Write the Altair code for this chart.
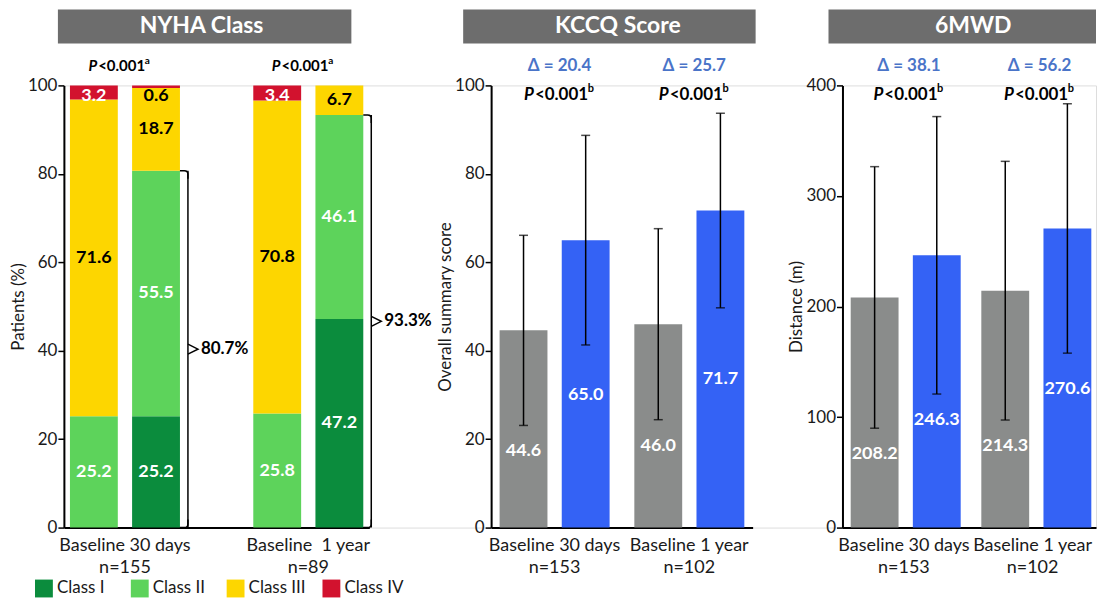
import altair as alt
import pandas as pd

FONT = "Lato"
TXT = "#1a1a1a"
HDR = "#6d6d6d"
GRAY = "#8a8c8b"
BLUE = "#3462f5"
DBLUE = "#4a74c8"

classes = ["Class I", "Class II", "Class III", "Class IV"]
class_colors = ["#0b8c3d", "#5dd35b", "#fdd600", "#d2122e"]
times = ["Baseline", "Follow-up"]

nyha_groups = ["Baseline 30 days|n=155", "Baseline\u00a0 1 year|n=89"]
nyha_base_30d = [0.0, 25.2, 71.6, 3.2]
nyha_30d = [25.2, 55.5, 18.7, 0.6]
nyha_base_1y = [0.0, 25.8, 70.8, 3.4]
nyha_1y = [47.2, 46.1, 6.7, 0.0]
nyha_p = ["<0.001", "<0.001"]
nyha_sup = ["a", "a"]

kccq_groups = ["Baseline 30 days|n=153", "Baseline 1 year|n=102"]
kccq_mean = [44.6, 65.0, 46.0, 71.7]
kccq_sd = [21.5, 23.7, 21.6, 22.0]
kccq_delta = ["\u0394 = 20.4", "\u0394 = 25.7"]
kccq_p = ["<0.001", "<0.001"]
kccq_sup = ["b", "b"]

mwd_groups = ["Baseline 30 days|n=153", "Baseline 1 year|n=102"]
mwd_mean = [208.2, 246.3, 214.3, 270.6]
mwd_sd = [118.3, 125.5, 117.0, 112.8]
mwd_delta = ["\u0394 = 38.1", "\u0394 = 56.2"]
mwd_p = ["<0.001", "<0.001"]
mwd_sup = ["b", "b"]


def y_axis(title, values):
    return alt.Axis(title=title, values=values, grid=False, domainColor="black",
                    domainWidth=2, tickColor="black", tickWidth=1.5, tickSize=6,
                    labelFont=FONT, labelFontSize=17, labelColor=TXT, labelPadding=1,
                    titleFont=FONT, titleFontSize=17, titleFontWeight="normal",
                    titleColor=TXT, titlePadding=0)


def x_axis(last_shift=0, last_value=""):
    extra = {}
    if last_shift:
        extra["labelOffset"] = alt.condition(f"datum.value == '{last_value}'",
                                             alt.value(last_shift), alt.value(0))
    return alt.Axis(title=None, labelExpr="split(datum.label, '|')", labelAngle=0,
                    ticks=False, domainColor="black", domainWidth=2, labelFont=FONT,
                    labelFontSize=18, labelColor=TXT, labelLineHeight=22,
                    labelPadding=9, labelBaseline="top", **extra)


def header(text, x0, x1, xt):
    d = pd.DataFrame({"t": [text]})
    rect = alt.Chart(d).mark_rect(color=HDR).encode(
        x=alt.value(x0), x2=alt.value(x1), y=alt.value(-76), y2=alt.value(-42))
    lab = alt.Chart(d).mark_text(font=FONT, fontSize=23, fontWeight="bold",
                                 color="white", baseline="middle").encode(
        x=alt.value(xt), y=alt.value(-59), text="t:N")
    return [rect, lab]


def p_labels(df, xenc, ypix, size, shift):
    # "P" (italic) + "<0.001" + superscript letter, centred on the group
    wp = 0.62 * size
    wr = 3.05 * size
    ws = 0.35 * size
    start = -(wp + wr + ws) / 2 + wp + shift
    common = dict(font=FONT, fontWeight="bold", baseline="middle", color="black")
    p1 = alt.Chart(df).mark_text(fontSize=size, fontStyle="italic", align="right",
                                 dx=start - 1, **common).encode(
        x=xenc, y=alt.value(ypix), text=alt.value("P"))
    p2 = alt.Chart(df).mark_text(fontSize=size, align="left", dx=start, **common).encode(
        x=xenc, y=alt.value(ypix), text="p:N")
    p3 = alt.Chart(df).mark_text(fontSize=round(size * 0.65), align="left",
                                 dx=start + wr + 1, dy=-size * 0.38, **common).encode(
        x=xenc, y=alt.value(ypix), text="s:N")
    return [p1, p2, p3]


# ---------------- NYHA panel ----------------
rows = []
sets = [(nyha_groups[0], "Baseline", nyha_base_30d), (nyha_groups[0], "Follow-up", nyha_30d),
        (nyha_groups[1], "Baseline", nyha_base_1y), (nyha_groups[1], "Follow-up", nyha_1y)]
for g, t, vals in sets:
    cum = 0.0
    for ci, (c, v) in enumerate(zip(classes, vals)):
        rows.append(dict(group=g, time=t, cls=c, order=ci, value=v, lo=cum, hi=cum + v,
                         mid=min(cum + v / 2, 97.6), label=f"{v:.1f}",
                         dark=(c == "Class III" or v < 1)))
        cum += v
nyha_df = pd.DataFrame(rows)

br_rows = []
for g, vals in [(nyha_groups[0], nyha_30d), (nyha_groups[1], nyha_1y)]:
    tot = round(vals[0] + vals[1], 1)
    br_rows.append(dict(group=g, total=tot, mid=tot / 2, zero=0.0, label=f"{tot:.1f}%"))
br_df = pd.DataFrame(br_rows)
np_df = pd.DataFrame({"group": nyha_groups, "p": nyha_p, "s": nyha_sup})

x1 = alt.X("group:N", sort=nyha_groups, axis=x_axis(),
           scale=alt.Scale(range=[0, 306], paddingInner=0.40, paddingOuter=0.033))
x1e = alt.X("group:N", sort=nyha_groups, bandPosition=1)
xo1 = alt.XOffset("time:N", sort=times, scale=alt.Scale(paddingInner=0.23))
y1 = alt.Y("lo:Q", scale=alt.Scale(domain=[0, 100]), axis=y_axis("Patients (%)", [0, 20, 40, 60, 80, 100]))

bars1 = alt.Chart(nyha_df).mark_bar().encode(
    x=x1, xOffset=xo1, y=y1, y2="hi:Q",
    color=alt.Color("cls:N", scale=alt.Scale(domain=classes, range=class_colors),
                    legend=alt.Legend(orient="none", legendX=-29, legendY=495,
                                      direction="horizontal", title=None,
                                      symbolType="square", symbolSize=320,
                                      symbolStrokeWidth=0, symbolOpacity=1,
                                      labelFont=FONT, labelFontSize=17, labelColor=TXT,
                                      labelOffset=4, columnPadding=14, gridAlign="all")))
labels1 = alt.Chart(nyha_df).transform_filter("datum.value > 0").mark_text(
    font=FONT, fontSize=18, fontWeight="bold", baseline="middle").encode(
    x=x1, xOffset=xo1, y="mid:Q", text="label:N",
    color=alt.condition("datum.dark", alt.value("black"), alt.value("white")))

BR = dict(filled=False, color="black", strokeWidth=1.5, opacity=1)
br_v = alt.Chart(br_df).mark_rule(color="black", strokeWidth=1.5, xOffset=8).encode(
    x=x1e, y="zero:Q", y2="total:Q")
br_t = alt.Chart(br_df).mark_point(shape="M -1 -1 L 0.1 -1 Q 1 -1 1 -0.1 L 1 1", size=64,
                                   xOffset=4, yOffset=4, **BR).encode(x=x1e, y="total:Q")
br_b = alt.Chart(br_df).mark_point(shape="M 1 -1 L 1 0.1 Q 1 1 0.1 1 L -1 1", size=64,
                                   xOffset=4, yOffset=-4, **BR).encode(x=x1e, y="zero:Q")
br_c = alt.Chart(br_df).mark_point(shape="M -1 -1 L 1 0 L -1 1", size=100,
                                   xOffset=13, **BR).encode(x=x1e, y="mid:Q")
br_l = alt.Chart(br_df).mark_text(font=FONT, fontSize=17, fontWeight="bold", align="left",
                                  baseline="middle", dx=21, color="black").encode(
    x=x1e, y="mid:Q", text="label:N")

p1 = alt.layer(*header("NYHA Class", -6, 288, 138), bars1, labels1, br_v, br_t, br_b, br_c,
               br_l, *p_labels(np_df, alt.X("group:N", sort=nyha_groups), -19, 15, -6)
               ).properties(width=428, height=443)


# ---------------- bar + error panels ----------------
def bar_panel(title, groups, means, sds, deltas, ps, sups, ymax, yvals, ytitle, width,
              xrange, hx0, hx1, hxt, last_shift=0):
    r = []
    for i, (m, s) in enumerate(zip(means, sds)):
        lo = m - s
        r.append(dict(group=groups[i // 2], time=times[i % 2], mean=m, lo=lo, hi=m + s,
                      laby=min(lo, 0.55 * m), label=f"{m:.1f}"))
    df = pd.DataFrame(r)
    ann = pd.DataFrame({"group": groups, "d": deltas, "p": ps, "s": sups})
    xs = alt.X("group:N", sort=groups, axis=x_axis(last_shift, groups[-1]),
               scale=alt.Scale(range=[0, xrange], paddingInner=0.185, paddingOuter=0.063))
    xo = alt.XOffset("time:N", sort=times, scale=alt.Scale(paddingInner=0.136))
    ys = alt.Y("mean:Q", scale=alt.Scale(domain=[0, ymax]), axis=y_axis(ytitle, yvals))
    bars = alt.Chart(df).mark_bar().encode(
        x=xs, xOffset=xo, y=ys,
        color=alt.condition("datum.time == 'Baseline'", alt.value(GRAY), alt.value(BLUE)))
    err = alt.Chart(df).mark_rule(color="black", strokeWidth=1.5).encode(
        x=xs, xOffset=xo, y="lo:Q", y2="hi:Q")
    cap_lo = alt.Chart(df).mark_tick(color="black", thickness=1.5, size=9,
                                     orient="horizontal").encode(x=xs, xOffset=xo, y="lo:Q")
    cap_hi = alt.Chart(df).mark_tick(color="black", thickness=1.5, size=9,
                                     orient="horizontal").encode(x=xs, xOffset=xo, y="hi:Q")
    vals = alt.Chart(df).mark_text(font=FONT, fontSize=18, fontWeight="bold", color="white",
                                   baseline="middle", dy=26).encode(
        x=xs, xOffset=xo, y="laby:Q", text="label:N")
    xg = alt.X("group:N", sort=groups)
    dl = alt.Chart(ann).mark_text(font=FONT, fontSize=17, fontWeight="bold", color=DBLUE,
                                  baseline="middle", dx=5).encode(
        x=xg, y=alt.value(-19), text="d:N")
    return alt.layer(*header(title, hx0, hx1, hxt), bars, err, cap_lo, cap_hi, vals, dl,
                     *p_labels(ann, xg, 10, 17, 4)).properties(width=width, height=443)


p2 = bar_panel("KCCQ Score", kccq_groups, kccq_mean, kccq_sd, kccq_delta, kccq_p, kccq_sup,
               100, [0, 20, 40, 60, 80, 100], "Overall summary score", 352, 262,
               -28, 265, 127)
p3 = bar_panel("6MWD", mwd_groups, mwd_mean, mwd_sd, mwd_delta, mwd_p, mwd_sup, 400,
               [0, 100, 200, 300, 400], "Distance (m)", 254, 254, -14, 254, 131,
               last_shift=-2)

chart = alt.hconcat(p1, p2, p3, spacing=0, bounds="flush").resolve_scale(
    color="independent").properties(
    padding={"left": 0, "top": 0, "right": 0, "bottom": 0}
).configure_view(stroke=None).configure(font=FONT)

chart.save("out.html", embed_options={"renderer": "svg", "actions": False})
